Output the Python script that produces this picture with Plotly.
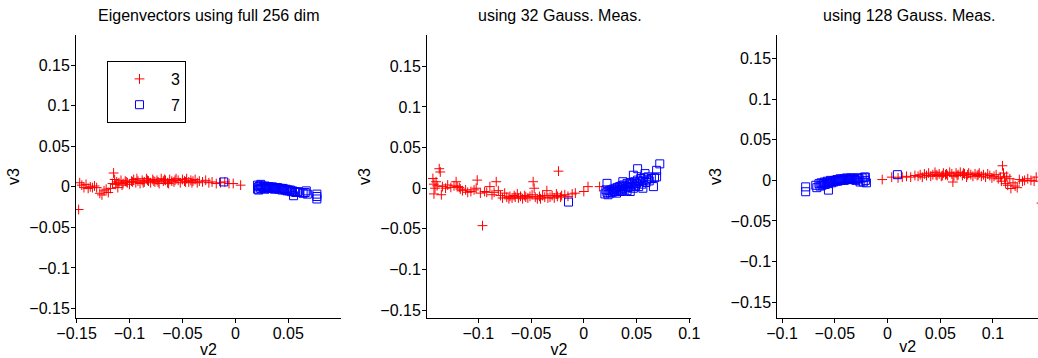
import plotly.graph_objects as go

# ---------------- data ----------------
# Panel 1: full 256 dim
p1_red_x = [-0.148, -0.147, -0.145, -0.143, -0.141, -0.139, -0.137, -0.135, -0.133, -0.131,
            -0.128, -0.126, -0.124, -0.122, -0.120, -0.118, -0.116, -0.115, -0.114, -0.113,
            -0.112, -0.111, -0.110, -0.108, -0.106, -0.104, -0.102, -0.100, -0.098, -0.096,
            -0.094, -0.092, -0.090, -0.088, -0.086, -0.084, -0.082, -0.080, -0.078, -0.076,
            -0.074, -0.072, -0.070, -0.068, -0.066, -0.064, -0.062, -0.060, -0.058, -0.056,
            -0.054, -0.052, -0.050, -0.048, -0.046, -0.044, -0.042, -0.040, -0.038, -0.036,
            -0.034, -0.031, -0.028, -0.025, -0.022, -0.018, -0.014, -0.010, -0.006, -0.002,
            0.005, -0.097, -0.087, -0.077, -0.067, -0.057, -0.047, -0.041, -0.063, -0.073,
            -0.083, -0.093, -0.103, -0.107]
p1_red_y = [-0.028, 0.005, 0.002, -0.001, 0.003, -0.002, 0.000, -0.001, 0.001, -0.001,
            -0.008, -0.010, -0.005, -0.003, -0.007, -0.002, 0.004, 0.017, 0.009, 0.003,
            0.006, -0.001, 0.005, 0.008, 0.004, 0.007, 0.005, 0.003, 0.007, 0.009,
            0.005, 0.007, 0.004, 0.008, 0.006, 0.010, 0.007, 0.005, 0.009, 0.006,
            0.008, 0.004, 0.010, 0.007, 0.008, 0.005, 0.009, 0.007, 0.006, 0.010,
            0.008, 0.005, 0.009, 0.007, 0.010, 0.006, 0.008, 0.007, 0.009, 0.005,
            0.007, 0.006, 0.008, 0.005, 0.006, 0.004, 0.005, 0.006, 0.004, 0.004,
            0.002, 0.006, 0.005, 0.007, 0.009, 0.008, 0.006, 0.005, 0.004, 0.006,
            0.008, 0.010, 0.006, 0.002]
p1_blue_x = [-0.011, 0.021, 0.021, 0.022, 0.022, 0.023, 0.024, 0.024, 0.025, 0.026,
             0.027, 0.028, 0.028, 0.029, 0.030, 0.031, 0.032, 0.033, 0.034, 0.035,
             0.036, 0.037, 0.038, 0.039, 0.040, 0.041, 0.042, 0.043, 0.044, 0.045,
             0.046, 0.047, 0.048, 0.049, 0.050, 0.051, 0.052, 0.053, 0.054, 0.055,
             0.056, 0.057, 0.059, 0.061, 0.064, 0.066, 0.067, 0.068, 0.077, 0.077, 0.077]
p1_blue_y = [0.006, 0.002, -0.003, 0.000, -0.004, 0.001, -0.002, 0.003, 0.001, -0.001,
             0.000, 0.001, -0.003, -0.001, 0.000, -0.002, 0.000, -0.001, -0.002, 0.000,
             -0.001, -0.003, -0.001, -0.002, -0.001, -0.003, -0.002, -0.002, -0.004, -0.002,
             -0.003, -0.004, -0.003, -0.005, -0.004, -0.005, -0.004, -0.006, -0.005, -0.011,
             -0.006, -0.007, -0.006, -0.007, -0.008, -0.007, -0.005, -0.009, -0.009, -0.012, -0.015]

# Panel 2: 32 Gaussian measurements
p2_red_x = [-0.143, -0.142, -0.141, -0.142, -0.140, -0.139, -0.137, -0.136, -0.135, -0.134,
            -0.131, -0.129, -0.126, -0.123, -0.121, -0.120, -0.118, -0.117, -0.115, -0.112,
            -0.110, -0.107, -0.104, -0.102, -0.101, -0.098, -0.096, -0.094, -0.092, -0.089,
            -0.087, -0.085, -0.083, -0.081, -0.079, -0.077, -0.075, -0.073, -0.071, -0.070,
            -0.068, -0.066, -0.065, -0.063, -0.062, -0.060, -0.058, -0.056, -0.055, -0.053,
            -0.051, -0.049, -0.048, -0.047, -0.046, -0.044, -0.042, -0.041, -0.039, -0.037,
            -0.035, -0.034, -0.032, -0.030, -0.028, -0.026, -0.025, -0.024, -0.022, -0.021,
            -0.018, -0.015, -0.011, -0.008, 0.000, 0.004, 0.015]
p2_red_y = [0.012, 0.005, 0.000, -0.007, 0.008, 0.003, 0.024, 0.020, -0.008, 0.002,
            0.000, 0.004, 0.001, 0.003, 0.008, 0.002, 0.001, -0.001, -0.003, -0.002,
            -0.005, -0.004, -0.002, 0.000, 0.010, -0.006, -0.046, -0.004, -0.005, 0.002,
            -0.008, -0.005, 0.008, -0.003, -0.009, -0.012, -0.006, -0.011, -0.013, -0.010,
            -0.012, -0.009, -0.011, -0.007, -0.012, -0.010, -0.013, -0.009, -0.011, -0.012,
            -0.010, -0.008, 0.008, 0.000, -0.011, -0.013, -0.010, -0.013, -0.009, -0.011,
            -0.003, -0.012, -0.011, -0.009, -0.012, -0.007, -0.010, 0.021, -0.011, -0.009,
            -0.008, -0.010, -0.007, -0.006, -0.004, 0.002, 0.002]
p2_blue_x = [-0.0145, 0.020, 0.021, 0.022, 0.022, 0.023, 0.024, 0.025, 0.026, 0.027,
             0.028, 0.029, 0.030, 0.031, 0.031, 0.032, 0.033, 0.034, 0.035, 0.036,
             0.036, 0.037, 0.037, 0.038, 0.039, 0.040, 0.041, 0.041, 0.042, 0.043,
             0.044, 0.044, 0.045, 0.046, 0.047, 0.047, 0.048, 0.049, 0.050, 0.051,
             0.051, 0.052, 0.053, 0.054, 0.055, 0.056, 0.056, 0.057, 0.058, 0.059,
             0.060, 0.061, 0.062, 0.064, 0.066, 0.067, 0.069, 0.069, 0.072]
p2_blue_y = [-0.017, -0.007, -0.002, 0.006, -0.005, -0.008, -0.003, -0.006, -0.002, -0.005,
             -0.001, -0.004, 0.000, -0.006, -0.002, 0.001, -0.003, 0.002, -0.002, 0.003,
             -0.004, 0.008, 0.000, 0.004, -0.001, 0.002, 0.006, -0.003, 0.001, 0.004,
             -0.004, 0.007, 0.002, 0.005, 0.016, 0.000, 0.008, 0.003, 0.006, 0.010,
             0.024, 0.002, 0.008, 0.012, 0.005, 0.000, 0.009, 0.013, 0.018, 0.007,
             0.011, 0.014, 0.009, 0.012, 0.002, 0.013, 0.022, 0.014, 0.030]

# Panel 3: 128 Gaussian measurements
p3_red_x = [-0.005, 0.004, 0.010, 0.014, 0.018, 0.022, 0.026, 0.029, 0.031, 0.033,
            0.035, 0.037, 0.039, 0.041, 0.043, 0.045, 0.047, 0.049, 0.051, 0.053,
            0.055, 0.057, 0.059, 0.061, 0.062, 0.063, 0.065, 0.067, 0.069, 0.071,
            0.073, 0.075, 0.077, 0.079, 0.081, 0.083, 0.085, 0.087, 0.089, 0.091,
            0.093, 0.095, 0.097, 0.099, 0.101, 0.103, 0.105, 0.107, 0.108, 0.109,
            0.110, 0.111, 0.112, 0.113, 0.114, 0.116, 0.117, 0.119, 0.121, 0.123,
            0.125, 0.128, 0.130, 0.133, 0.136, 0.139, 0.141, 0.146,
            0.046, 0.056, 0.066, 0.076, 0.086, 0.052, 0.072]
p3_red_y = [0.001, 0.004, 0.003, 0.004, 0.005, 0.004, 0.006, 0.005, 0.007, 0.004,
            0.008, 0.006, 0.009, 0.005, 0.007, 0.010, 0.006, 0.008, 0.005, 0.009,
            0.007, 0.006, 0.010, 0.008, -0.002, 0.005, 0.009, 0.007, 0.010, 0.006,
            0.008, 0.004, 0.009, 0.007, 0.005, 0.008, 0.006, 0.009, 0.005, 0.007,
            0.004, 0.008, 0.006, 0.003, 0.005, 0.007, 0.002, 0.004, -0.001, 0.018,
            0.009, 0.003, -0.004, 0.005, -0.006, 0.002, -0.010, -0.003, -0.007, -0.009,
            0.001, -0.001, 0.000, 0.002, 0.000, -0.001, 0.004, -0.028,
            0.007, 0.008, 0.006, 0.007, 0.007, 0.006, 0.009]
p3_blue_x = [-0.0776, -0.0776, -0.068, -0.067, -0.065, -0.064, -0.063, -0.062, -0.061, -0.060,
             -0.059, -0.058, -0.057, -0.056, -0.056, -0.055, -0.054, -0.053, -0.052, -0.051,
             -0.050, -0.049, -0.048, -0.047, -0.046, -0.045, -0.044, -0.043, -0.042, -0.041,
             -0.040, -0.039, -0.038, -0.037, -0.036, -0.035, -0.034, -0.033, -0.032, -0.031,
             -0.030, -0.028, -0.027, -0.026, -0.024, -0.023, -0.022, -0.021, -0.021, -0.020, 0.0094]
p3_blue_y = [-0.008, -0.014, -0.006, -0.009, -0.004, -0.007, -0.003, -0.006, -0.004, -0.002,
             -0.005, -0.003, -0.001, -0.012, -0.004, -0.002, 0.000, -0.003, -0.001, -0.002,
             0.000, -0.001, 0.001, -0.001, 0.000, 0.002, 0.000, 0.001, 0.002, 0.000,
             0.001, 0.003, 0.001, 0.002, 0.001, 0.003, 0.002, 0.002, 0.003, 0.001,
             0.000, 0.003, 0.002, -0.002, 0.003, -0.002, 0.004, 0.000, 0.004, -0.003, 0.007]

titles = ["Eigenvectors using full 256 dim", "using 32 Gauss. Meas.", "using 128 Gauss. Meas."]
class_names = ["3", "7"]
y_ticks = [-0.15, -0.1, -0.05, 0, 0.05, 0.1, 0.15]
x_ticks = [[-0.15, -0.1, -0.05, 0, 0.05], [-0.1, -0.05, 0, 0.05, 0.1], [-0.1, -0.05, 0, 0.05, 0.1]]

# ---------------- layout helpers ----------------
W, H = 1038, 358
FONT = "Liberation Sans, Arial, Helvetica, sans-serif"
PANEL_W = 265


def fx(px):
    return px / W


def fy(py):
    return 1 - py / H


def lab(v):
    return ("%g" % v).replace("-", "\u2212")


panels = [
    dict(red=(p1_red_x, p1_red_y), blue=(p1_blue_x, p1_blue_y), left=76,
         xdom=[fx(76), fx(341)], xr=[-0.1505, 0.0998], yr=[-0.162, 0.187]),
    dict(red=(p2_red_x, p2_red_y), blue=(p2_blue_x, p2_blue_y), left=427,
         xdom=[fx(427), fx(691)], xr=[-0.1486, 0.1016], yr=[-0.160, 0.1885]),
    dict(red=(p3_red_x, p3_red_y), blue=(p3_blue_x, p3_blue_y), left=777.3,
         xdom=[fx(777.3), 1.0], xr=[-0.1045, 0.1427], yr=[-0.170, 0.1792]),
]

fig = go.Figure()
layout = dict(
    width=W, height=H,
    margin=dict(l=0, r=0, t=0, b=0),
    paper_bgcolor="white", plot_bgcolor="white",
    font=dict(family=FONT, size=16, color="black"),
    showlegend=True,
    legend=dict(x=fx(107), y=fy(61), xanchor="left", yanchor="top",
                bordercolor="black", borderwidth=1, bgcolor="white",
                font=dict(size=16), tracegroupgap=2, itemwidth=53),
    annotations=[],
)

for i, p in enumerate(panels):
    sfx = "" if i == 0 else str(i + 1)
    xa, ya = "x" + sfx, "y" + sfx
    fig.add_trace(go.Scatter(
        x=p["red"][0], y=p["red"][1], mode="markers", xaxis=xa, yaxis=ya,
        name=class_names[0], legendgroup="g3", showlegend=(i == 0),
        marker=dict(symbol="cross-thin", size=7, line=dict(color="#ff0000", width=1), color="#ff0000")))
    fig.add_trace(go.Scatter(
        x=p["blue"][0], y=p["blue"][1], mode="markers", xaxis=xa, yaxis=ya,
        name=class_names[1], legendgroup="g7", showlegend=(i == 0),
        marker=dict(symbol="square-open", size=8, line=dict(color="#0000ff", width=1), color="#0000ff")))
    common = dict(showline=True, linecolor="black", linewidth=1, ticks="outside", ticklen=4,
                  tickcolor="black", showgrid=False, zeroline=False, mirror=False,
                  tickfont=dict(size=16, family=FONT, color="black"), automargin=False)
    layout["xaxis" + sfx] = dict(domain=p["xdom"], range=p["xr"], anchor=ya,
                                 tickmode="array", tickvals=x_ticks[i],
                                 ticktext=[lab(v) for v in x_ticks[i]], ticklabelstandoff=-4,
                                 title=dict(text="v2", standoff=0, font=dict(size=16)), **common)
    layout["yaxis" + sfx] = dict(domain=[fy(318.3), fy(35)], range=p["yr"], anchor=xa,
                                 tickmode="array", tickvals=y_ticks,
                                 ticktext=[lab(v) for v in y_ticks], ticklabelstandoff=-2,
                                 title=dict(text="v3", standoff=5, font=dict(size=16)), **common)
    layout["annotations"].append(dict(
        text=titles[i], x=fx(p["left"] + PANEL_W / 2),
        y=fy(16), xref="paper", yref="paper", xanchor="center", yanchor="middle",
        showarrow=False, font=dict(size=16, family=FONT, color="black")))

fig.update_layout(**layout)
fig.write_html("out.html")
